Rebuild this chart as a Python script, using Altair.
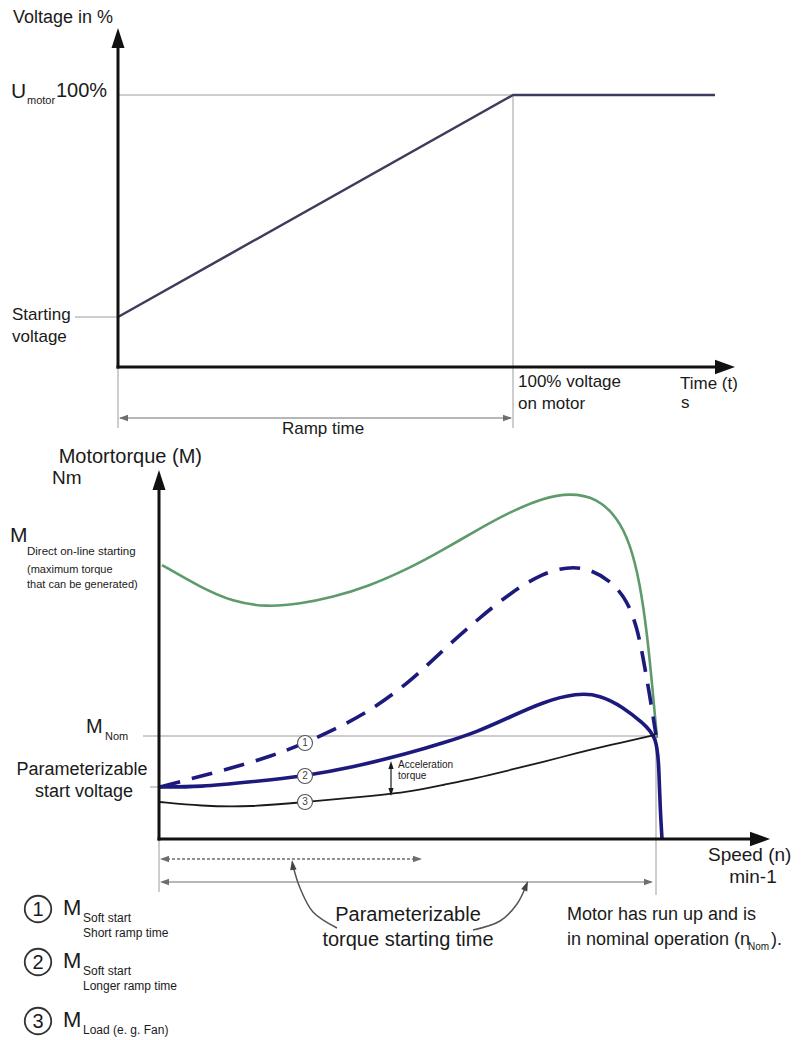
import altair as alt
import pandas as pd

W, H = 801, 1040
FONT = "Liberation Sans"
INK = "#1a1a1a"
GRAY = "#9c9c9c"
ARROW_GRAY = "#6e6e6e"
GREEN = "#5e9b6c"
NAVY = "#1c1a7d"
SLATE = "#3c3c5c"

# ---------------- data (diagram units) ----------------
# Top panel: voltage ramp (time -> voltage)
volt_t = [118, 513, 715]
volt_u = [317, 95, 95]

# Bottom panel: torque curves (speed -> torque)
green_n = [162, 200, 233, 267, 300, 333, 367, 410, 443, 477, 510, 543, 570, 597, 617, 630, 640, 647, 652, 657]
green_m = [565, 587, 602, 607, 604, 597, 587, 568, 550, 530, 512, 498, 493, 498, 517, 543, 583, 633, 683, 738]

short_n = [160, 217, 267, 305, 333, 367, 410, 443, 477, 510, 543, 567, 587, 610, 627, 637, 643, 650, 656]
short_m = [787, 772, 758, 743, 730, 713, 682, 650, 620, 593, 573, 567, 568, 580, 600, 627, 657, 697, 735]

long_n = [160, 200, 250, 305, 350, 410, 443, 477, 510, 543, 577, 600, 623, 643, 657, 659, 660, 662]
long_m = [787, 787, 782, 776, 768, 753, 743, 732, 717, 702, 693, 695, 707, 723, 737, 770, 805, 839]

load_n = [160, 200, 250, 305, 350, 410, 443, 477, 510, 543, 577, 610, 655]
load_m = [802, 806, 807, 802, 798, 792, 785, 778, 770, 762, 753, 745, 735]

# curve tags on the curves
tag_labels = ["1", "2", "3"]
tag_n = [305, 305, 305]
tag_m = [743, 776, 802]

# legend
legend_nums = ["1", "2", "3"]
legend_subs = ["Soft start", "Soft start", "Load (e. g. Fan)"]
legend_notes = ["Short ramp time", "Longer ramp time", ""]

X = alt.X("x:Q", scale=alt.Scale(domain=[0, W], nice=False, zero=False), axis=None)
Y = alt.Y("y:Q", scale=alt.Scale(domain=[H, 0], nice=False, zero=False), axis=None)

layers = []


def curve(xs, ys, color, width, dash=None, interp="basis"):
    df = pd.DataFrame({"x": xs, "y": ys, "o": list(range(len(xs)))})
    kw = dict(color=color, strokeWidth=width, interpolate=interp, strokeCap="butt", strokeJoin="round")
    if dash:
        kw["strokeDash"] = dash
    return alt.Chart(df).mark_line(**kw).encode(x=X, y=Y, order="o:Q")


def rules(segs, color, width, dash=None):
    df = pd.DataFrame(segs, columns=["x", "y", "x2", "y2"])
    kw = dict(color=color, strokeWidth=width, strokeCap="butt")
    if dash:
        kw["strokeDash"] = dash
    return alt.Chart(df).mark_rule(**kw).encode(x=X, y=Y, x2="x2:Q", y2="y2:Q")


def heads(pts, shape, size, color, angle=0):
    df = pd.DataFrame(pts, columns=["x", "y"])
    return alt.Chart(df).mark_point(shape=shape, size=size, filled=True, color=color,
                                    strokeWidth=0, opacity=1, angle=angle).encode(x=X, y=Y)


def texts(items, align="left", color=INK):
    df = pd.DataFrame(items, columns=["x", "y", "t", "fs"])
    return alt.Chart(df).mark_text(align=align, baseline="middle", font=FONT, color=color).encode(
        x=X, y=Y, text="t:N", size=alt.Size("fs:Q", scale=None))


UP = "M0,0L0.65,2L-0.65,2Z"
DOWN = "M0,0L0.65,-2L-0.65,-2Z"
RIGHT = "M0,0L-2,-0.72L-2,0.72Z"
LEFT = "M0,0L2,-0.72L2,0.72Z"

# ---------------- thin gray reference lines ----------------
layers.append(rules([
    (118, 95, 513, 95),      # 100 % level
    (75, 317, 118, 317),     # starting voltage
    (513, 95, 513, 428),     # end of ramp
    (118, 367, 118, 428),    # start of ramp
    (143, 736, 656, 736),    # M Nom
    (150, 787, 160, 787),    # start voltage
    (656, 736, 656, 895),    # nominal speed
    (159, 839, 159, 892),    # start
], GRAY, 1))

# ---------------- dimension arrows ----------------
layers.append(rules([(120, 418, 511, 418), (162, 882, 651, 882)], ARROW_GRAY, 1.2))
layers.append(rules([(162, 859, 420, 859)], ARROW_GRAY, 1.3, dash=[3, 2]))
layers.append(heads([(119, 418), (160, 859), (160, 882)], LEFT, 81, ARROW_GRAY))
layers.append(heads([(512, 418), (422, 859), (653, 882)], RIGHT, 81, ARROW_GRAY))

# curved pointers to the two dimension arrows
layers.append(curve([337, 313, 300, 293], [928, 912, 888, 866], "#555555", 1.5, interp="catmull-rom"))
layers.append(curve([473, 500, 517, 526], [930, 921, 904, 886], "#555555", 1.5, interp="catmull-rom"))
layers.append(heads([(292, 860)], UP, 100, "#444444", angle=352))
layers.append(heads([(528, 881)], UP, 100, "#444444", angle=22))

# acceleration torque arrow
layers.append(rules([(391, 765, 391, 792)], INK, 1.2))
layers.append(heads([(391, 761)], UP, 64, INK))
layers.append(heads([(391, 796)], DOWN, 64, INK))

# ---------------- curves ----------------
layers.append(curve(volt_t, volt_u, SLATE, 2.5, interp="linear"))
layers.append(curve(green_n, green_m, GREEN, 2.6))
layers.append(curve(short_n, short_m, NAVY, 3.6, dash=[21, 12]))
layers.append(curve(long_n, long_m, NAVY, 3.6))
layers.append(curve(load_n, load_m, INK, 1.8))

# ---------------- axes ----------------
layers.append(rules([
    (118, 368.5, 118, 46),
    (116.5, 367, 717, 367),
    (159, 840.5, 159, 488),
    (157.5, 839, 752, 839),
], "#111111", 3))
layers.append(heads([(118, 28), (159, 470)], UP, 400, "#111111"))
layers.append(heads([(735, 367), (770, 839)], RIGHT, 400, "#111111"))

# ---------------- curve tags ----------------
tag_df = pd.DataFrame({"x": tag_n, "y": tag_m, "t": tag_labels})
layers.append(alt.Chart(tag_df).mark_point(shape="circle", size=225, filled=True, fill="white",
                                           stroke="#555555", strokeWidth=1.1, opacity=1).encode(x=X, y=Y))
layers.append(alt.Chart(tag_df).mark_text(font=FONT, fontSize=10, color="#444444", baseline="middle",
                                          align="center").encode(x=X, y=Y, text="t:N"))

# ---------------- legend ----------------
leg_y = [909, 962, 1021]
leg_df = pd.DataFrame({"x": [38, 38, 38], "y": leg_y, "t": legend_nums})
layers.append(alt.Chart(leg_df).mark_point(shape="circle", size=700, filled=False, color="#333333",
                                           strokeWidth=1.8, opacity=1).encode(x=X, y=Y))
layers.append(alt.Chart(leg_df).mark_text(font=FONT, fontSize=20, color=INK, baseline="middle",
                                          align="center", dy=1).encode(x=X, y=Y, text="t:N"))

legend_items = []
for i in range(3):
    legend_items.append((63, leg_y[i] - 1, "M", 22))
    legend_items.append((83, leg_y[i] + 9, legend_subs[i], 12))
    if legend_notes[i]:
        legend_items.append((83, leg_y[i] + 24, legend_notes[i], 12))

# ---------------- labels ----------------
left_labels = [
    (13, 18, "Voltage in %", 18),
    (11, 92, "U", 21),
    (27, 101, "motor", 11),
    (56, 91, "100%", 20),
    (12, 315, "Starting", 17),
    (12, 337, "voltage", 17),
    (518, 382, "100% voltage", 17),
    (518, 404, "on motor", 17),
    (680, 384, "Time (t)", 17),
    (681, 403, "s", 17),
    (52, 478, "Nm", 19),
    (10, 536, "M", 21),
    (27, 552, "Direct on-line starting", 11.5),
    (27, 570, "(maximum torque", 11),
    (27, 585, "that can be generated)", 11),
    (86, 727, "M", 20),
    (105, 737, "Nom", 11),
    (398, 765, "Acceleration", 10),
    (398, 776, "torque", 10),
    (708, 855, "Speed (n)", 19),
    (567, 915, "Motor has run up and is", 18),
    (567, 940, "in nominal operation (n", 18),
    (748, 947, "Nom", 10),
    (771, 940, ").", 18),
] + legend_items

center_labels = [
    (323, 429, "Ramp time", 17),
    (82, 770, "Parameterizable", 18),
    (84, 792, "start voltage", 18),
    (753, 877, "min-1", 19),
    (408, 915, "Parameterizable", 20),
    (408, 940, "torque starting time", 20),
]

right_labels = [
    (202, 457, "Motortorque (M)", 20),
]

layers.append(texts(left_labels, "left"))
layers.append(texts(center_labels, "center"))
layers.append(texts(right_labels, "right"))

chart = alt.layer(*layers).properties(
    width=W, height=H,
    autosize=alt.AutoSizeParams(type="none"),
    padding=0,
    background="white",
).configure_view(stroke=None)

chart.save("out.html", embed_options={"renderer": "svg", "actions": False})
